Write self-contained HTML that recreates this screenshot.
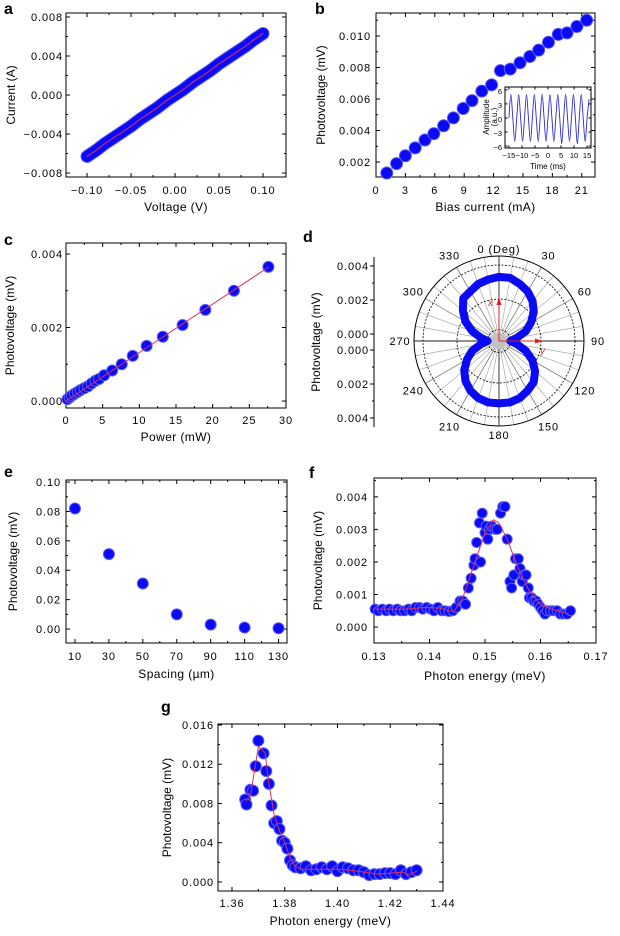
<!DOCTYPE html>
<html><head><meta charset="utf-8">
<style>
html,body{margin:0;padding:0;background:#fff;}
svg{display:block;font-family:"Liberation Sans",Arial,sans-serif;}
.tl{letter-spacing:0.9px;}
.tt{letter-spacing:0.4px;}
</style></head>
<body>
<svg id="fig" width="620" height="936" viewBox="0 0 620 936" xmlns="http://www.w3.org/2000/svg"></svg>
<script>
// ---------- data ----------
const aVoltage=[-0.10,-0.09,-0.08,-0.07,-0.06,-0.05,-0.04,-0.03,-0.02,-0.01,0,0.01,0.02,0.03,0.04,0.05,0.06,0.07,0.08,0.09,0.10];
const aCurrent=[-0.0063,-0.0057,-0.0050,-0.0044,-0.0038,-0.0032,-0.0025,-0.0019,-0.0013,-0.0006,0.0000,0.0006,0.0013,0.0019,0.0025,0.0032,0.0038,0.0044,0.0050,0.0057,0.0063];
const aXTicks=[-0.10,-0.05,0.00,0.05,0.10];
const aXLabels=["−0.10","−0.05","0.00","0.05","0.10"];
const aYTicks=[-0.008,-0.004,0,0.004,0.008];
const aYLabels=["−0.008","−0.004","0.000","0.004","0.008"];

const bBias=[1.1,2.1,3.0,4.0,5.0,5.9,6.9,7.9,8.9,9.8,10.8,11.8,12.7,13.7,14.7,15.7,16.6,17.6,18.6,19.5,20.5,21.5];
const bPhoto=[0.0013,0.0019,0.0024,0.0029,0.0034,0.0038,0.0043,0.0048,0.0054,0.0059,0.0065,0.0069,0.0078,0.0079,0.0083,0.0087,0.0091,0.0096,0.0101,0.0102,0.0106,0.0110];
const bXTicks=[0,3,6,9,12,15,18,21];
const bYTicks=[0.002,0.004,0.006,0.008,0.010];
const bYLabels=["0.002","0.004","0.006","0.008","0.010"];
const insetTime=[-15,-14.25,-13.5,-12.75,-12,-11.25,-10.5,-9.75,-9,-8.25,-7.5,-6.75,-6,-5.25,-4.5,-3.75,-3,-2.25,-1.5,-0.75,0,0.75,1.5,2.25,3,3.75,4.5,5.25,6,6.75,7.5,8.25,9,9.75,10.5,11.25,12,12.75,13.5,14.25,15,15.75];
const insetAmp=[0,5,0,-5,0,5,0,-5,0,5,0,-5,0,5,0,-5,0,5,0,-5,0,5,0,-5,0,5,0,-5.5,0,5,0,-5,0,5,0,-5.5,0,5,0,-5,0,4];
const insetXTicks=[-15,-10,-5,0,5,10,15];
const insetXLabels=["−15","−10","−5","0","5","10","15"];
const insetYTicks=[-6,-3,0,3,6];
const insetYLabels=["−6","−3","0","3","6"];

const cPower=[0.2,0.5,0.8,1.2,1.6,2.0,2.5,3.0,3.5,4.0,4.5,5.2,6.3,7.6,9.1,11.0,13.2,15.9,19.0,22.9,27.6];
const cPhoto=[0.00005,0.0001,0.00015,0.0002,0.00025,0.0003,0.00035,0.0004,0.00048,0.00055,0.0006,0.0007,0.00083,0.001,0.00123,0.0015,0.00175,0.00207,0.00248,0.003,0.00365];
const cFitX=[0,27.6];
const cFitY=[0,0.00364];
const cXTicks=[0,5,10,15,20,25,30];
const cYTicks=[0,0.002,0.004];
const cYLabels=["0.000","0.002","0.004"];

const dAngle=[0,10,20,30,40,50,60,70,80,90,100,110,120,130,140,150,160,170,180,190,200,210,220,230,240,250,260,270,280,290,300,310,320,330,340,350];
const dPhoto=[0.0033,0.0033,0.0031,0.0029,0.0026,0.0022,0.0017,0.0012,0.0006,0.0002,0.0006,0.0012,0.0018,0.0023,0.0027,0.0029,0.0031,0.0032,0.0032,0.0032,0.0031,0.0029,0.0026,0.0022,0.0017,0.0012,0.0006,0.0002,0.0006,0.0012,0.0018,0.0023,0.0028,0.0029,0.0031,0.0032];
const dAngleLabels=["0 (Deg)","30","60","90","120","150","180","210","240","270","300","330"];
const dAxisLabels=["0.004","0.002","0.000","0.000","0.002","0.004"];

const eSpacing=[10,30,50,70,90,110,130];
const ePhoto=[0.082,0.051,0.031,0.010,0.003,0.001,0.0005];
const eXTicks=[10,30,50,70,90,110,130];
const eYTicks=[0,0.02,0.04,0.06,0.08,0.10];
const eYLabels=["0.00","0.02","0.04","0.06","0.08","0.10"];

const fEnergy=[0.1302,0.1308,0.1315,0.1322,0.1328,0.1335,0.1342,0.1348,0.1355,0.1362,0.1368,0.1375,0.1382,0.1388,0.1395,0.1402,0.1408,0.1415,0.1422,0.1428,0.1435,0.1442,0.1448,0.1455,0.146,0.1465,0.147,0.1475,0.148,0.1482,0.1485,0.149,0.1492,0.1495,0.150,0.1502,0.1505,0.1508,0.1512,0.1518,0.1522,0.1528,0.1532,0.1536,0.154,0.1545,0.1548,0.1552,0.1555,0.156,0.1563,0.1567,0.157,0.1574,0.1578,0.158,0.1584,0.1588,0.1592,0.1596,0.160,0.1604,0.1608,0.1612,0.1618,0.1624,0.163,0.1636,0.1642,0.1648,0.1654];
const fPhoto=[0.00055,0.0005,0.00055,0.0005,0.00055,0.0005,0.00055,0.0005,0.0005,0.00055,0.0005,0.0006,0.0006,0.00055,0.0006,0.00055,0.0005,0.0006,0.0005,0.0005,0.00048,0.0005,0.0006,0.0008,0.0008,0.0007,0.0012,0.0015,0.0019,0.0021,0.0026,0.0032,0.0020,0.0035,0.0029,0.0031,0.0027,0.0030,0.0031,0.0030,0.0030,0.0035,0.0037,0.0037,0.0027,0.0014,0.0012,0.0016,0.0021,0.0021,0.0018,0.0014,0.0016,0.0016,0.0012,0.0009,0.0009,0.0008,0.0008,0.0007,0.0006,0.0005,0.0004,0.0005,0.0005,0.0005,0.0005,0.0004,0.0004,0.0004,0.0005];
const fFitX=[0.130,0.133,0.136,0.139,0.142,0.144,0.1445,0.146,0.148,0.150,0.1515,0.1525,0.154,0.156,0.158,0.160,0.162,0.165];
const fFitY=[0.00055,0.00055,0.00055,0.0006,0.00058,0.00048,0.0005,0.0009,0.0019,0.0029,0.0033,0.0032,0.0027,0.0018,0.0011,0.0007,0.00055,0.0004];
const fXTicks=[0.13,0.14,0.15,0.16,0.17];
const fXLabels=["0.13","0.14","0.15","0.16","0.17"];
const fYTicks=[0,0.001,0.002,0.003,0.004];
const fYLabels=["0.000","0.001","0.002","0.003","0.004"];

const gEnergy=[1.365,1.3655,1.367,1.368,1.369,1.370,1.372,1.373,1.374,1.375,1.376,1.377,1.378,1.379,1.380,1.381,1.382,1.383,1.384,1.386,1.388,1.390,1.392,1.394,1.396,1.398,1.400,1.402,1.404,1.406,1.408,1.410,1.412,1.414,1.416,1.418,1.420,1.422,1.424,1.426,1.428,1.430];
const gPhoto=[0.0084,0.0079,0.0094,0.0093,0.0118,0.0144,0.0131,0.0113,0.0100,0.0078,0.0060,0.0062,0.0054,0.0042,0.0040,0.0034,0.0022,0.0017,0.0015,0.0014,0.0016,0.0012,0.0013,0.0015,0.0013,0.0016,0.0011,0.0015,0.0014,0.0012,0.0012,0.0010,0.0007,0.0008,0.0008,0.0009,0.0009,0.0008,0.0012,0.0008,0.0010,0.0012];
const gFitX=[1.3655,1.367,1.370,1.3725,1.374,1.376,1.378,1.380,1.382,1.384,1.386,1.390,1.395,1.400,1.405,1.410,1.415,1.420,1.425,1.427,1.430];
const gFitY=[0.0083,0.0088,0.0138,0.0132,0.0100,0.0068,0.0052,0.0040,0.0025,0.0016,0.0013,0.0013,0.0013,0.0013,0.0012,0.0010,0.0008,0.0009,0.0010,0.0007,0.0011];
const gXTicks=[1.36,1.38,1.40,1.42,1.44];
const gXLabels=["1.36","1.38","1.40","1.42","1.44"];
const gYTicks=[0,0.004,0.008,0.012,0.016];
const gYLabels=["0.000","0.004","0.008","0.012","0.016"];

// ---------- helpers ----------
const NS="http://www.w3.org/2000/svg";
const svg=document.getElementById('fig');
function el(tag,attrs,parent){const e=document.createElementNS(NS,tag);for(const k in attrs)e.setAttribute(k,attrs[k]);(parent||svg).appendChild(e);return e;}
const BLUE="#0a0af5", HALO="#5c5cf6", RED="#e0305a";

function makeAxes(p){
  const g=el('g',{});
  
  
  const sx=v=>p.L+(v-p.xmin)/(p.xmax-p.xmin)*(p.R-p.L);
  const sy=v=>p.B-(v-p.ymin)/(p.ymax-p.ymin)*(p.B-p.T);
  const fr=el('rect',{x:p.L,y:p.T,width:p.R-p.L,height:p.B-p.T,fill:'none',stroke:'#000','stroke-width':1},g);
  
  
  const tl=p.tick||4;
  const cls=p.small?'':'tl';
  p.xticks.forEach((v,i)=>{const x=sx(v);
    if(x>=p.L-0.5&&x<=p.R+0.5){el('line',{x1:x,x2:x,y1:p.B,y2:p.B-tl,stroke:'#000'},g);el('line',{x1:x,x2:x,y1:p.T,y2:p.T+tl,stroke:'#000'},g);}
    const t=el('text',{x:x,y:p.xlabY,'text-anchor':'middle','font-size':p.fs||11,'class':cls},g);t.textContent=p.xlabels[i];
    
    
  });
  (p.xminor||[]).forEach(v=>{const x=sx(v);el('line',{x1:x,x2:x,y1:p.B,y2:p.B-tl/2,stroke:'#000'},g);el('line',{x1:x,x2:x,y1:p.T,y2:p.T+tl/2,stroke:'#000'},g);});
  p.yticks.forEach((v,i)=>{const y=sy(v);
    el('line',{x1:p.L,x2:p.L+tl,y1:y,y2:y,stroke:'#000'},g);el('line',{x1:p.R,x2:p.R-tl,y1:y,y2:y,stroke:'#000'},g);
    const t=el('text',{x:p.ylabX+(p.small?0:1),y:y+4,'text-anchor':'end','font-size':p.fs||11,'class':cls},g);t.textContent=p.ylabels[i];
    
    
  });
  (p.yminor||[]).forEach(v=>{const y=sy(v);el('line',{x1:p.L,x2:p.L+tl/2,y1:y,y2:y,stroke:'#000'},g);el('line',{x1:p.R,x2:p.R-tl/2,y1:y,y2:y,stroke:'#000'},g);});
  if(p.xtitle){const t=el('text',{x:(p.L+p.R)/2,y:p.xtitleY,'text-anchor':'middle','font-size':p.tfs||12,'class':p.small?'':'tt'},g);t.textContent=p.xtitle;
    
    }
  if(p.ytitle){const cy=(p.T+p.B)/2;const t=el('text',{x:p.ytitleX,y:cy,'text-anchor':'middle','font-size':p.tfs||12,transform:`rotate(-90 ${p.ytitleX} ${cy})`},g);t.textContent=p.ytitle;
    
    }
  if(p.letter){const t=el('text',{x:p.letterX,y:p.letterY,'font-size':16,'font-weight':'bold'},g);t.textContent=p.letter;
    
    }
  return {g,sx,sy};
}
function dots(ax,xs,ys,r,name){
  xs.forEach((xv,i)=>{const c=el('circle',{cx:ax.sx(xv),cy:ax.sy(ys[i]),r:r,fill:BLUE,stroke:HALO,'stroke-width':1},ax.g);
    
    });
}
function line(ax,xs,ys,color,w,name){
  const pts=xs.map((xv,i)=>ax.sx(xv).toFixed(2)+','+ax.sy(ys[i]).toFixed(2)).join(' ');
  const l=el('polyline',{points:pts,fill:'none',stroke:color,'stroke-width':w,'stroke-linejoin':'round','stroke-linecap':'round'},ax.g);
  
  
  return l;
}

// ---------- panel a ----------
const A=makeAxes({name:'panel-a',L:66,R:286,T:13,B:177,xmin:-0.1239,xmax:0.1261,ymin:-0.00841,ymax:0.00841,
  xticks:aXTicks,xlabels:aXLabels,yticks:aYTicks,ylabels:aYLabels,xminor:[-0.075,-0.025,0.025,0.075],yminor:[-0.006,-0.002,0.002,0.006],
  xlabY:194,ylabX:62,xtitle:'Voltage (V)',xtitleY:211,ytitle:'Current (A)',ytitleX:15,letter:'a',letterX:4,letterY:14});
line(A,aVoltage,aCurrent,HALO,13,'iv-data-halo');
line(A,aVoltage,aCurrent,BLUE,11,'iv-data');
line(A,aVoltage,aCurrent,RED,1,'iv-fit-line');

// ---------- panel b ----------
const B=makeAxes({name:'panel-b',L:376,R:595,T:13,B:177,xmin:0,xmax:22.35,ymin:0.00105,ymax:0.01146,
  xticks:bXTicks,xlabels:bXTicks.map(String),yticks:bYTicks,ylabels:bYLabels,xminor:[1.5,4.5,7.5,10.5,13.5,16.5,19.5],yminor:[0.003,0.005,0.007,0.009,0.011],
  xlabY:194,ylabX:370,xtitle:'Bias current (mA)',xtitleY:211,ytitle:'Photovoltage (mV)',ytitleX:325,letter:'b',letterX:315,letterY:14});
dots(B,bBias,bPhoto,6,'bias-point');
// inset
const I=makeAxes({name:'inset-time-trace',L:505,R:591,T:87,B:148,xmin:-16.5,xmax:16.5,ymin:-6.4,ymax:6.6,small:true,
  xticks:insetXTicks,xlabels:insetXLabels,yticks:insetYTicks,ylabels:insetYLabels,fs:7.5,tfs:8,tick:2.5,
  xlabY:158,ylabX:502,xtitle:'Time (ms)',xtitleY:169});
{const bg=el('rect',{x:505.5,y:87.5,width:85,height:60,fill:'#fff'},I.g);I.g.insertBefore(bg,I.g.firstChild);
 
 
 const cy=117;
 const t1=el('text',{x:489,y:cy,'text-anchor':'middle','font-size':8,transform:`rotate(-90 489 ${cy})`},I.g);t1.textContent='Amplitude';
 
 
 const t2=el('text',{x:497,y:cy,'text-anchor':'middle','font-size':8,transform:`rotate(-90 497 ${cy})`},I.g);t2.textContent='(a.u.)';
 
 
 const P=insetTime.map((t,i)=>[I.sx(t),I.sy(insetAmp[i])]);
 let d='M'+P[0][0]+','+P[0][1];
 for(let i=0;i<P.length-1;i++){const p0=P[i-1]||P[i],p1=P[i],p2=P[i+1],p3=P[i+2]||P[i+1];
   d+=` C${p1[0]+(p2[0]-p0[0])/6},${p1[1]+(p2[1]-p0[1])/6} ${p2[0]-(p3[0]-p1[0])/6},${p2[1]-(p3[1]-p1[1])/6} ${p2[0]},${p2[1]}`;}
 const cp=el('clipPath',{id:'insetclip'},I.g);el('rect',{x:505,y:87,width:86,height:61},cp);
 const w=el('path',{d:d,fill:'none',stroke:'#2a2ad0','stroke-width':0.9,'clip-path':'url(#insetclip)'},I.g);
 
 
}

// ---------- panel c ----------
const C=makeAxes({name:'panel-c',L:66,R:286,T:243,B:408,xmin:0,xmax:30,ymin:-0.00019,ymax:0.0043,
  xticks:cXTicks,xlabels:cXTicks.map(String),yticks:cYTicks,ylabels:cYLabels,xminor:[2.5,7.5,12.5,17.5,22.5,27.5],yminor:[0.001,0.003],
  xlabY:424,ylabX:62,xtitle:'Power (mW)',xtitleY:441,ytitle:'Photovoltage (mV)',ytitleX:14,letter:'c',letterX:4,letterY:245});
dots(C,cPower,cPhoto,5.5,'power-point');
line(C,cFitX,cFitY,RED,1,'power-fit-line');

// ---------- panel d (polar) ----------
{
 const g=el('g',{});
 
 
 const cx=499,cy=341,R0=8,K=17000,Rout=85;
 const rr=v=>R0+v*K;
 const lt=el('text',{x:303,y:242,'font-size':16,'font-weight':'bold'},g);lt.textContent='d';
 
 
 for(let a=0;a<360;a+=10){const rad=a*Math.PI/180;
   const l=el('line',{x1:cx+R0*Math.sin(rad),y1:cy-R0*Math.cos(rad),x2:cx+Rout*Math.sin(rad),y2:cy-Rout*Math.cos(rad),stroke:a%90===0?'#222':(a%30===0?'#666':'#aaa'),'stroke-width':a%90===0?0.9:0.7},g);
   
   }
 [0.0002,0.002,0.004].forEach(v=>{const c=el('circle',{cx:cx,cy:cy,r:rr(v),fill:'none',stroke:'#000','stroke-width':0.8,'stroke-dasharray':'2,1.5'},g);
   
   });
 const oc=el('circle',{cx:cx,cy:cy,r:Rout,fill:'none',stroke:'#000','stroke-width':1},g);
 
 
 const hub=el('circle',{cx:cx,cy:cy,r:R0,fill:'#999',opacity:0.6},g);
 
 
 const pts=dAngle.map((a,i)=>{const rad=a*Math.PI/180,r=rr(dPhoto[i]);return (cx+r*Math.sin(rad)).toFixed(2)+','+(cy-r*Math.cos(rad)).toFixed(2);}).join(' ');
 const pg=el('polygon',{points:pts,fill:'none',stroke:BLUE,'stroke-width':8,'stroke-linejoin':'round'},g);
 
 
 const ax1=el('line',{x1:cx,y1:cy,x2:cx,y2:cy-40,stroke:'#e02020','stroke-width':1},g);
 
 
 const ah1=el('polygon',{points:`${cx-2.5},${cy-36} ${cx+2.5},${cy-36} ${cx},${cy-44}`,fill:'#e02020'},g);
 
 
 const ax2=el('line',{x1:cx,y1:cy,x2:cx+40,y2:cy,stroke:'#e02020','stroke-width':1},g);
 
 
 const ah2=el('polygon',{points:`${cx+36},${cy-2.5} ${cx+36},${cy+2.5} ${cx+44},${cy}`,fill:'#e02020'},g);
 
 
 const tx=el('text',{x:cx-11,y:cy-35,'font-size':10,'font-style':'italic',fill:'#e02020'},g);tx.textContent='x';
 
 
 const ty=el('text',{x:cx+41,y:cy+13,'font-size':10,'font-style':'italic',fill:'#e02020'},g);ty.textContent='y';
 
 
 dAngleLabels.forEach((s,i)=>{const a=i*30*Math.PI/180;const rl=i===0?92:(i===6?94:99);
   const t=el('text',{x:cx+rl*Math.sin(a),y:cy-rl*Math.cos(a)+4,'text-anchor':'middle','font-size':11,'class':'tl'},g);t.textContent=s;
   
   });
 const al=el('line',{x1:374,y1:257,x2:374,y2:427,stroke:'#000'},g);
 
 
 const yv=[266,300,334,350,384,418];
 dAxisLabels.forEach((s,i)=>{el('line',{x1:374,x2:370,y1:yv[i],y2:yv[i],stroke:'#000'},g);
   const t=el('text',{x:369,y:yv[i]+4,'text-anchor':'end','font-size':11,'class':'tl'},g);t.textContent=s;
   
   });
 [283,317,367,401].forEach(y=>el('line',{x1:374,x2:372,y1:y,y2:y,stroke:'#000'},g));
 const yt=el('text',{x:320,y:342,'text-anchor':'middle','font-size':12,transform:'rotate(-90 320 342)'},g);yt.textContent='Photovoltage (mV)';
 
 
}

// ---------- panel e ----------
const E=makeAxes({name:'panel-e',L:66,R:287,T:480,B:643,xmin:4.7,xmax:135,ymin:-0.0095,ymax:0.1014,
  xticks:eXTicks,xlabels:eXTicks.map(String),yticks:eYTicks,ylabels:eYLabels,xminor:[20,40,60,80,100,120],yminor:[0.01,0.03,0.05,0.07,0.09],
  xlabY:660,ylabX:60,xtitle:'Spacing (µm)',xtitleY:678,ytitle:'Photovoltage (mV)',ytitleX:17,letter:'e',letterX:4,letterY:477});
dots(E,eSpacing,ePhoto,5.5,'spacing-point');

// ---------- panel f ----------
const F=makeAxes({name:'panel-f',L:374,R:596,T:478,B:643,xmin:0.13,xmax:0.17,ymin:-0.00049,ymax:0.00458,
  xticks:fXTicks,xlabels:fXLabels,yticks:fYTicks,ylabels:fYLabels,xminor:[0.135,0.145,0.155,0.165],yminor:[0.0005,0.0015,0.0025,0.0035,0.0045],
  xlabY:660,ylabX:367,xtitle:'Photon energy (meV)',xtitleY:680,ytitle:'Photovoltage (mV)',ytitleX:322,letter:'f',letterX:309,letterY:478});
dots(F,fEnergy,fPhoto,5,'spectrum-point');
line(F,fFitX,fFitY,RED,1,'spectrum-fit-line');

// ---------- panel g ----------
const G=makeAxes({name:'panel-g',L:218,R:443,T:724,B:891,xmin:1.3547,xmax:1.44,ymin:-0.00092,ymax:0.0161,
  xticks:gXTicks,xlabels:gXLabels,yticks:gYTicks,ylabels:gYLabels,xminor:[1.37,1.39,1.41,1.43],yminor:[0.002,0.006,0.010,0.014],
  xlabY:907,ylabX:213,xtitle:'Photon energy (meV)',xtitleY:925,ytitle:'Photovoltage (mV)',ytitleX:171,letter:'g',letterX:161,letterY:712});
dots(G,gEnergy,gPhoto,5.5,'edge-spectrum-point');
line(G,gFitX,gFitY,RED,1,'edge-fit-line');
</script>
</body></html>
